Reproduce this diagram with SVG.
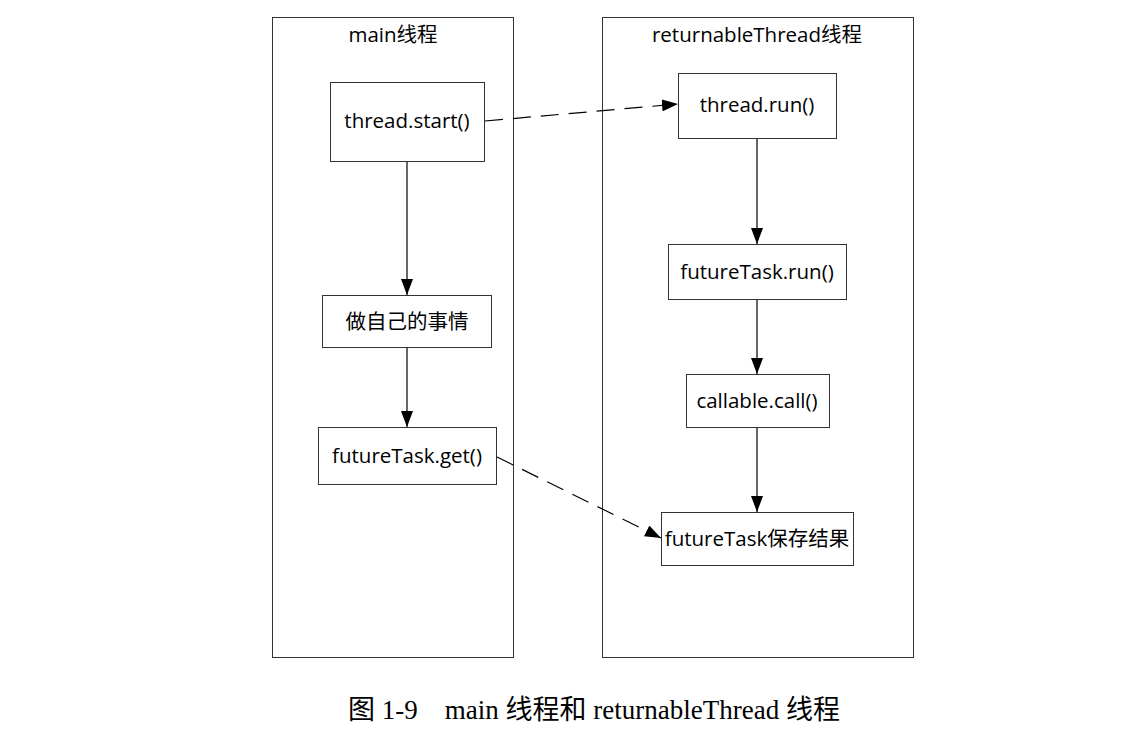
<svg xmlns="http://www.w3.org/2000/svg" width="1123" height="737" viewBox="0 0 1123 737">
<style>
.bg{fill:#fff}
.lane{fill:none;stroke:#333;stroke-width:1}
.box{fill:#fff;stroke:#333;stroke-width:1}
.t{font-family:"Open Sans","Noto Sans CJK SC",sans-serif;font-size:20.5px;fill:#000;text-anchor:middle;dominant-baseline:central}
.cap{font-family:"Liberation Serif","Noto Sans CJK SC",serif;font-size:27px;fill:#000;text-anchor:middle}
.ln{fill:none;stroke:#000;stroke-width:1.2}
.dash{stroke-dasharray:18 10}
</style>
<defs>
<marker id="ah" viewBox="0 0 16 12" refX="16" refY="6" markerWidth="16" markerHeight="12" markerUnits="userSpaceOnUse" orient="auto">
<path d="M0,0 L16,6 L0,12 Z" fill="#000"/>
</marker>
</defs>
<rect class="bg" x="0" y="0" width="1123" height="737"/>
<g id="lane-main">
<rect class="lane" x="272.5" y="17.5" width="241" height="640"/>
<text class="t" x="393" y="34">main线程</text>
</g>
<g id="lane-returnable">
<rect class="lane" x="602.5" y="17.5" width="311" height="640"/>
<text class="t" x="757" y="34">returnableThread线程</text>
</g>
<g id="n-start">
<rect class="box" x="330.5" y="82.5" width="154" height="79"/>
<text class="t" x="407" y="120">thread.start()</text>
</g>
<g id="n-self">
<rect class="box" x="322.5" y="295.5" width="169" height="52"/>
<text class="t" x="407" y="321">做自己的事情</text>
</g>
<g id="n-get">
<rect class="box" x="318.5" y="427.5" width="178" height="57"/>
<text class="t" x="407" y="455">futureTask.get()</text>
</g>
<g id="n-run">
<rect class="box" x="678.5" y="73.5" width="158" height="65"/>
<text class="t" x="757" y="104">thread.run()</text>
</g>
<g id="n-ftrun">
<rect class="box" x="668.5" y="244.5" width="178" height="55"/>
<text class="t" x="757" y="271">futureTask.run()</text>
</g>
<g id="n-call">
<rect class="box" x="686.5" y="374.5" width="143" height="53"/>
<text class="t" x="757" y="400">callable.call()</text>
</g>
<g id="n-save">
<rect class="box" x="661.5" y="512.5" width="192" height="53"/>
<text class="t" x="757" y="538">futureTask保存结果</text>
</g>
<g id="connectors">
<line class="ln dash" x1="485" y1="121" x2="678" y2="104" marker-end="url(#ah)"/>
<line class="ln" x1="407" y1="162" x2="407" y2="295" marker-end="url(#ah)"/>
<line class="ln" x1="407" y1="348" x2="407" y2="427" marker-end="url(#ah)"/>
<line class="ln dash" x1="497" y1="457" x2="661" y2="538" marker-end="url(#ah)"/>
<line class="ln" x1="757" y1="139" x2="757" y2="244" marker-end="url(#ah)"/>
<line class="ln" x1="757" y1="300" x2="757" y2="374" marker-end="url(#ah)"/>
<line class="ln" x1="757" y1="428" x2="757" y2="512" marker-end="url(#ah)"/>
</g>
<text class="cap" x="594" y="719" xml:space="preserve">图 1-9    main 线程和 returnableThread 线程</text>
</svg>
